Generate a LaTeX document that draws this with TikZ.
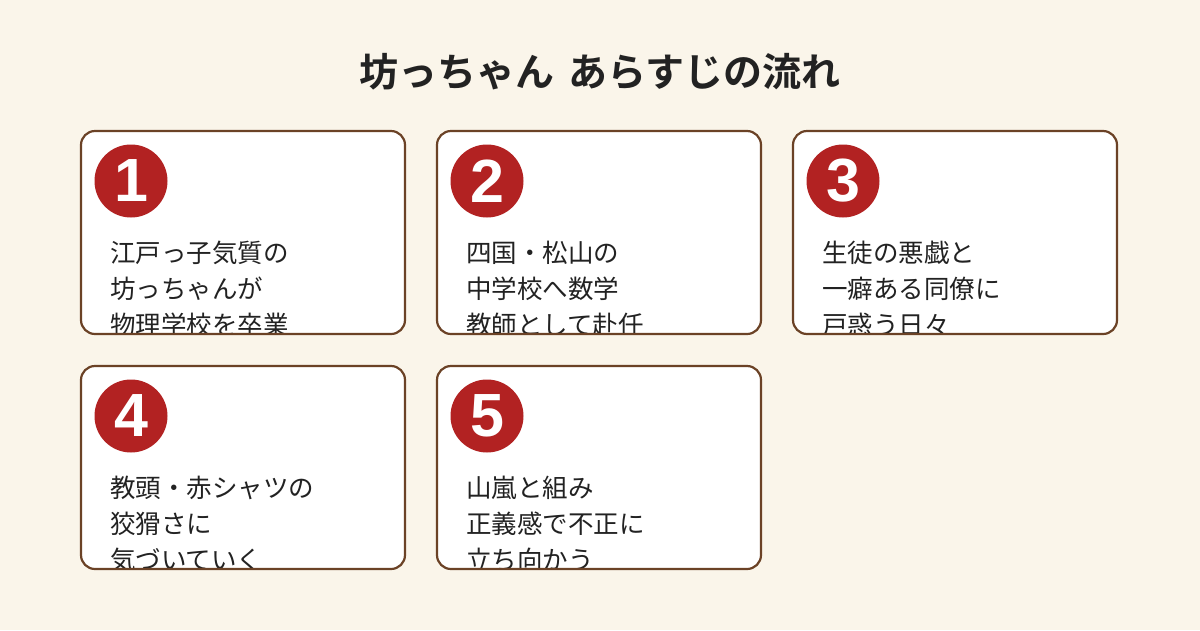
\documentclass[tikz,border=0pt]{standalone}
\usepackage{fontspec}
\setmainfont{Noto Sans CJK JP}
\newfontfamily\jpbold{Noto Sans CJK JP Bold}
\newfontfamily\numfont{Liberation Sans}
\definecolor{bg}{HTML}{FAF5EA}
\definecolor{frame}{HTML}{6B4226}
\definecolor{badge}{HTML}{B22222}
\definecolor{ink}{HTML}{222222}
\tikzset{
  card/.style={draw=frame, line width=2.2pt, rounded corners=14pt},
  badgecircle/.style={circle, fill=badge, minimum size=73pt, inner sep=0pt},
  badgenum/.style={text=white, font=\numfont\bfseries\fontsize{61}{61}\selectfont, inner sep=0pt},
  bodytext/.style={anchor=base west, inner sep=0pt, text=ink, font=\fontsize{25.5}{25.5}\selectfont},
}
\begin{document}
\begin{tikzpicture}[x=1pt,y=-1pt]
\fill[bg] (0,0) rectangle (1200,630);
\useasboundingbox (0,0) rectangle (1200,630);
\node[anchor=base, inner sep=0pt, text=ink, font=\jpbold\fontsize{39}{39}\selectfont] (title) at (600,86) {坊っちゃん\hspace{14pt}あらすじの流れ};

\foreach \n/\x/\y/\a/\b/\c in {
  1/81/131/江戸っ子気質の/坊っちゃんが/物理学校を卒業,
  2/437/131/四国・松山の/中学校へ数学/教師として赴任,
  3/793/131/生徒の悪戯と/一癖ある同僚に/戸惑う日々,
  4/81/366/教頭・赤シャツの/狡猾さに/気づいていく,
  5/437/366/山嵐と組み/正義感で不正に/立ち向かう}{
  \fill[white, rounded corners=14pt] (\x,\y) rectangle ++(324,203);
  \begin{scope}
    \clip[rounded corners=14pt] (\x,\y) rectangle ++(324,203);
    \node[bodytext] (l\n a) at (\x+29,\y+131) {\a};
    \node[bodytext] (l\n b) at (\x+29,\y+167) {\b};
    \node[bodytext] (l\n c) at (\x+29,\y+203) {\c};
  \end{scope}
  \draw[card] (\x,\y) rectangle ++(324,203);
  \node[badgecircle] (c\n) at (\x+50,\y+50) {};
  \node[badgenum] (n\n) at (\x+50,\y+50) {\n};
}
\end{tikzpicture}
\end{document}
